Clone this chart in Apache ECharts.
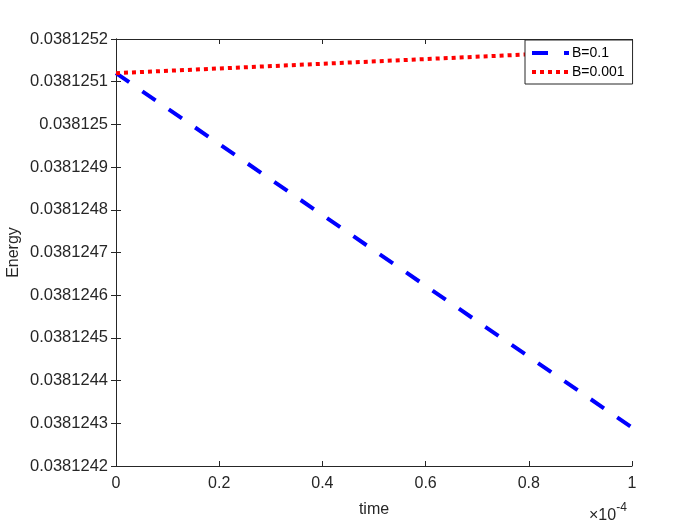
<!DOCTYPE html>
<html>
<head>
    <meta charset="utf-8" />
    <style>
        html, body { margin: 0; padding: 0; background: #fff; }
        #chart { width: 700px; height: 525px; }
    </style>
    <script src="https://cdn.jsdelivr.net/npm/echarts@6/dist/echarts.min.js"></script>
</head>
<body>
    <div id="chart"></div>
    <script type="text/javascript">
        // time in seconds, energy values
        var timeValues = [0, 1e-4];
        var energyB01 = [0.03812512, 0.03812429];
        var energyB0001 = [0.03812512, 0.038125175];
        var seriesNames = ['B=0.1', 'B=0.001'];

        var axisColor = '#262626';
        var font = 'Liberation Sans, Arial, sans-serif';

        function pairs(xs, ys) {
            return xs.map(function (x, i) { return [x, ys[i]]; });
        }

        var chart = echarts.init(document.getElementById('chart'));

        var xBase = {
            type: 'value',
            min: 0,
            max: 1e-4,
            interval: 2e-5,
            axisLine: { show: true, lineStyle: { color: axisColor, width: 1 } },
            axisTick: { show: true, inside: true, length: 5, lineStyle: { color: axisColor } },
            splitLine: { show: false }
        };
        var yBase = {
            type: 'value',
            min: 0.0381242,
            max: 0.0381252,
            interval: 1e-7,
            axisLine: { show: true, lineStyle: { color: axisColor, width: 1 } },
            axisTick: { show: true, inside: true, length: 5, lineStyle: { color: axisColor } },
            splitLine: { show: false }
        };

        var option = {
            backgroundColor: '#fff',
            animation: false,
            grid: { left: 116, right: 68, top: 39, bottom: 59, containLabel: false, outerBoundsMode: 'none' },
            legend: {
                data: seriesNames,
                orient: 'vertical',
                left: 525,
                top: 40,
                itemWidth: 37,
                itemHeight: 10,
                itemGap: 5,
                padding: [6, 8, 5, 5],
                backgroundColor: '#fff',
                borderColor: axisColor,
                borderWidth: 1,
                borderRadius: 0,
                itemStyle: { opacity: 0, borderWidth: 0 },
                lineStyle: { width: 4 },
                textStyle: { fontFamily: font, fontSize: 14, color: '#000', padding: [0, 0, 0, -2] }
            },
            xAxis: [
                Object.assign({}, xBase, {
                    position: 'bottom',
                    name: 'time',
                    nameLocation: 'middle',
                    nameGap: 36,
                    nameMoveOverlap: false,
                    nameTextStyle: { fontFamily: font, fontSize: 16, color: axisColor },
                    axisLabel: {
                        fontFamily: font, fontSize: 16, color: axisColor, margin: 10,
                        formatter: function (v) { return String(parseFloat((v * 1e4).toFixed(4))); }
                    }
                }),
                Object.assign({}, xBase, { position: 'top', axisLabel: { show: false } })
            ],
            yAxis: [
                Object.assign({}, yBase, {
                    position: 'left',
                    name: 'Energy',
                    nameLocation: 'middle',
                    nameGap: 94,
                    nameMoveOverlap: false,
                    nameTextStyle: { fontFamily: font, fontSize: 16, color: axisColor },
                    axisLabel: {
                        fontFamily: font, fontSize: 16.5, color: axisColor, margin: 8,
                        formatter: function (v) { return String(parseFloat(v.toFixed(7))); }
                    }
                }),
                Object.assign({}, yBase, { position: 'right', axisLabel: { show: false } })
            ],
            graphic: [{
                type: 'text',
                left: 589,
                top: 502,
                style: {
                    text: '{a|\u00d710}{b|-4}',
                    rich: {
                        a: { fontFamily: font, fontSize: 16, fill: axisColor, verticalAlign: 'bottom', lineHeight: 20 },
                        b: { fontFamily: font, fontSize: 12, fill: axisColor, verticalAlign: 'top', padding: [0, 0, 10, 0] }
                    }
                }
            }],
            series: [
                {
                    name: seriesNames[0],
                    type: 'line',
                    data: pairs(timeValues, energyB01),
                    showSymbol: false,
                    symbol: 'none',
                    lineStyle: { color: '#0000ff', width: 4, type: [16, 16], cap: 'butt' },
                    itemStyle: { color: '#0000ff' },
                    z: 2
                },
                {
                    name: seriesNames[1],
                    type: 'line',
                    data: pairs(timeValues, energyB0001),
                    showSymbol: false,
                    symbol: 'none',
                    lineStyle: { color: '#ff0000', width: 4, type: [4, 4], cap: 'butt' },
                    itemStyle: { color: '#ff0000' },
                    z: 3
                }
            ]
        };
        chart.setOption(option);
    </script>
</body>
</html>
